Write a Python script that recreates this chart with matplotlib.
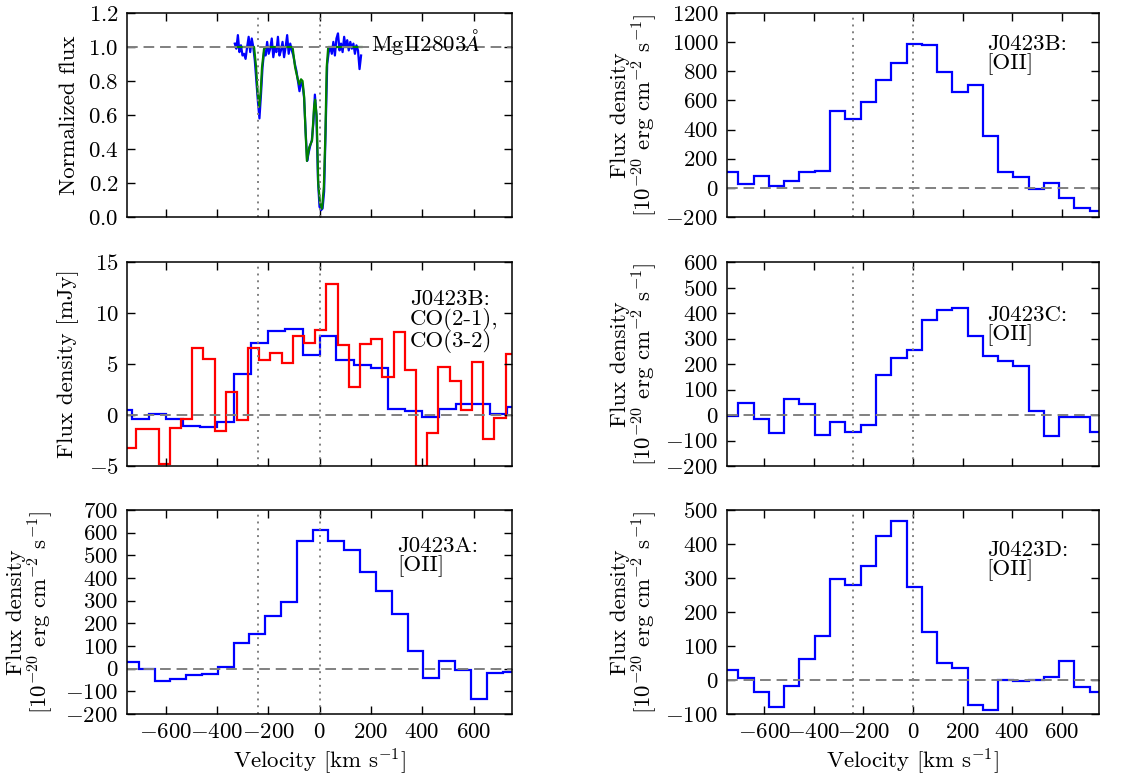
import matplotlib
matplotlib.use('Agg')
import matplotlib.pyplot as plt

plt.rcParams['font.family'] = 'serif'
plt.rcParams['font.serif'] = ['cmr10']
plt.rcParams['mathtext.fontset'] = 'cm'
plt.rcParams['axes.formatter.use_mathtext'] = True
plt.rcParams['font.size'] = 16.5
plt.rcParams['axes.linewidth'] = 1.1

# MgII 2803 absorption: observed spectrum and model
mgii_vel = [-330, -324, -318, -312, -306, -300, -294, -288, -282, -276, -270, -264,
            -258, -252, -246, -240, -234, -228, -222, -216, -210, -204, -198, -192,
            -186, -180, -174, -168, -162, -156, -150, -144, -138, -132, -126, -120,
            -114, -108, -102, -96, -90, -84, -78, -72, -66, -60, -54, -48, -42, -36,
            -30, -24, -18, -12, -6, 0, 6, 12, 18, 24, 30, 36, 42, 48, 54, 60, 66, 72,
            78, 84, 90, 96, 102, 108, 114, 120, 126, 132, 138, 144, 150, 156, 162]
mgii_flux = [1.02, 0.99, 1.07, 0.97, 1.01, 0.95, 0.96, 0.93, 1.00, 1.06, 0.97, 1.05,
             1.00, 0.92, 0.80, 0.68, 0.58, 0.72, 0.88, 0.97, 0.95, 1.03, 0.96, 0.99,
             1.05, 0.94, 1.00, 0.97, 1.06, 0.95, 0.98, 1.03, 0.94, 1.00, 1.07, 0.96,
             1.02, 0.98, 0.95, 0.90, 0.86, 0.80, 0.74, 0.79, 0.78, 0.70, 0.50, 0.33,
             0.38, 0.42, 0.45, 0.55, 0.72, 0.60, 0.22, 0.06, 0.04, 0.05, 0.15, 0.52,
             0.90, 0.97, 1.00, 0.96, 1.03, 0.95, 1.05, 1.08, 0.98, 1.02, 0.97, 1.06,
             1.00, 1.04, 0.98, 1.03, 0.99, 1.02, 0.96, 1.01, 0.98, 0.87, 0.95]
model_vel = [-329, -255, -247, -241, -234, -229, -224, -216, -206, -105, -95, -86,
             -79, -72, -66, -60, -54, -49, -40, -29, -21, -17, -11, -5, 2, 10, 17,
             23, 28, 34, 164]
model_flux = [1.0, 1.0, 0.88, 0.73, 0.65, 0.74, 0.88, 0.99, 1.0, 1.0, 0.88, 0.82,
              0.78, 0.81, 0.80, 0.71, 0.49, 0.33, 0.41, 0.45, 0.65, 0.69, 0.59, 0.20,
              0.08, 0.05, 0.18, 0.49, 0.88, 1.0, 1.0]

# CO spectra of J0423B
co21_edges = [-796, -729, -663, -597, -530, -464, -398, -332, -265, -199, -133, -66,
              0, 66, 133, 199, 265, 332, 398, 464, 530, 597, 663, 729, 796]
co21_flux = [0.5, -0.4, 0.1, -0.4, -1.05, -1.15, -0.65, 4.0, 7.1, 8.25, 8.4, 5.9,
             7.75, 5.35, 4.95, 4.65, 0.6, 0.4, -0.2, 0.6, 1.05, 1.1, 0.1, 0.8]
co32_edges = [-758, -714, -671, -627, -583, -540, -496, -453, -409, -365, -322, -278,
              -234, -191, -147, -104, -60, -16, 27, 71, 114, 158, 202, 245, 289, 332,
              376, 420, 463, 507, 550, 594, 638, 681, 725, 768]
co32_flux = [-3.2, -1.4, -1.35, -4.85, -1.3, -0.35, 6.6, 5.45, -1.55, 2.25, -0.5, 6.6,
             5.4, 6.1, 5.1, 7.75, 7.1, 8.3, 12.8, 6.9, 2.7, 6.95, 7.5, 3.7, 8.15, 4.4,
             -5.0, -1.8, 4.75, 3.3, 0.5, 5.2, -2.35, -0.3, 6.0]

# [OII] spectra
oii_edges = [-766, -704, -642, -581, -519, -458, -396, -334, -273, -211, -150, -88,
             -26, 35, 97, 158, 220, 282, 343, 405, 466, 528, 590, 651, 713, 774]
oii_a = [31, 0, -54, -44, -29, -22, 7, 113, 153, 231, 293, 562, 610, 563, 525, 428,
         341, 240, 78, -41, 34, -7, -134, -19, -16]
oii_b = [108, 28, 78, 16, 46, 108, 117, 528, 470, 587, 739, 856, 989, 977, 796, 658,
         709, 353, 108, 73, -11, 34, -69, -140, -158]
oii_c = [-4, 47, -16, -72, 63, 44, -77, -29, -65, -39, 157, 223, 255, 371, 413, 418,
         311, 230, 210, 192, 16, -81, -8, -7, -67]
oii_d = [28, 7, -35, -80, -17, 61, 129, 298, 280, 335, 425, 469, 275, 140, 49, 35,
         -74, -88, 1, -3, 0, 8, 55, -21, -36]

vel_ticks = [-600, -400, -200, 0, 200, 400, 600]
oii_label = 'Flux density\n[10$^{-20}$ erg cm$^{-2}$ s$^{-1}$]'
FS = 16.5


def setup_axis(ax, ylim, yticks, ylabel, label_x, base=0.0, bottom=False):
    ax.axhline(base, color='gray', ls='--', lw=1.4, dashes=(5.5, 3))
    ax.axvline(-240, color='gray', ls=':', lw=1.4, dashes=(1, 2.5))
    ax.axvline(0, color='gray', ls=':', lw=1.4, dashes=(1, 2.5))
    ax.set_xlim(-750, 750)
    ax.set_ylim(*ylim)
    ax.set_xticks(vel_ticks)
    ax.set_yticks(yticks)
    ax.tick_params(direction='in', top=True, right=True, length=6, width=1,
                   labelsize=FS, pad=6)
    ax.set_ylabel(ylabel, fontsize=FS, linespacing=1.0)
    ax.yaxis.set_label_coords(label_x, 0.5)
    if bottom:
        ax.set_xlabel('Velocity [km s$^{-1}$]', fontsize=FS)
    else:
        ax.tick_params(labelbottom=False)


fig = plt.figure(figsize=(11.41, 7.78), dpi=100)
W, H = 1141.0, 778.0
left_x, left_w = 127 / W, 385 / W
right_x, right_w = 727 / W, 372 / W
row_tops = [13, 262, 510]
row_h = 204 / H


def make_axes(x, w, top):
    return fig.add_axes([x, 1 - (top + 204) / H, w, row_h])


# left column
ax = make_axes(left_x, left_w, row_tops[0])
ax.plot(mgii_vel, mgii_flux, color='b', lw=1.6)
ax.plot(model_vel, model_flux, color='g', lw=1.6)
setup_axis(ax, (0, 1.2), [0.0, 0.2, 0.4, 0.6, 0.8, 1.0, 1.2], 'Normalized flux',
           -0.125, base=1.0)
ax.text(200, 1.03, r'MgII2803$\AA$', fontsize=FS, va='center', ha='left')

ax = make_axes(left_x, left_w, row_tops[1])
ax.stairs(co21_flux, co21_edges, baseline=None, color='b', lw=1.6)
ax.stairs(co32_flux, co32_edges, baseline=None, color='r', lw=1.6)
setup_axis(ax, (-5, 15), [-5, 0, 5, 10, 15], 'Flux density [mJy]', -0.125)
ax.text(0.735, 0.865, 'J0423B:\nCO(2-1),\nCO(3-2)', transform=ax.transAxes,
        fontsize=FS, va='top', ha='left', linespacing=0.95)

ax = make_axes(left_x, left_w, row_tops[2])
ax.stairs(oii_a, oii_edges, baseline=None, color='b', lw=1.6)
setup_axis(ax, (-200, 700), list(range(-200, 701, 100)), oii_label, -0.185,
           bottom=True)
ax.text(0.702, 0.87, 'J0423A:\n[OII]', transform=ax.transAxes,
        fontsize=FS, va='top', ha='left', linespacing=0.95)

# right column
ax = make_axes(right_x, right_w, row_tops[0])
ax.stairs(oii_b, oii_edges, baseline=None, color='b', lw=1.6)
setup_axis(ax, (-200, 1200), list(range(-200, 1201, 200)), oii_label, -0.18)
ax.text(0.698, 0.895, 'J0423B:\n[OII]', transform=ax.transAxes,
        fontsize=FS, va='top', ha='left', linespacing=0.95)

ax = make_axes(right_x, right_w, row_tops[1])
ax.stairs(oii_c, oii_edges, baseline=None, color='b', lw=1.6)
setup_axis(ax, (-200, 600), list(range(-200, 601, 100)), oii_label, -0.18)
ax.text(0.698, 0.785, 'J0423C:\n[OII]', transform=ax.transAxes,
        fontsize=FS, va='top', ha='left', linespacing=0.95)

ax = make_axes(right_x, right_w, row_tops[2])
ax.stairs(oii_d, oii_edges, baseline=None, color='b', lw=1.6)
setup_axis(ax, (-100, 500), list(range(-100, 501, 100)), oii_label, -0.18,
           bottom=True)
ax.text(0.698, 0.85, 'J0423D:\n[OII]', transform=ax.transAxes,
        fontsize=FS, va='top', ha='left', linespacing=0.95)

fig.savefig('out.png', dpi=100)
